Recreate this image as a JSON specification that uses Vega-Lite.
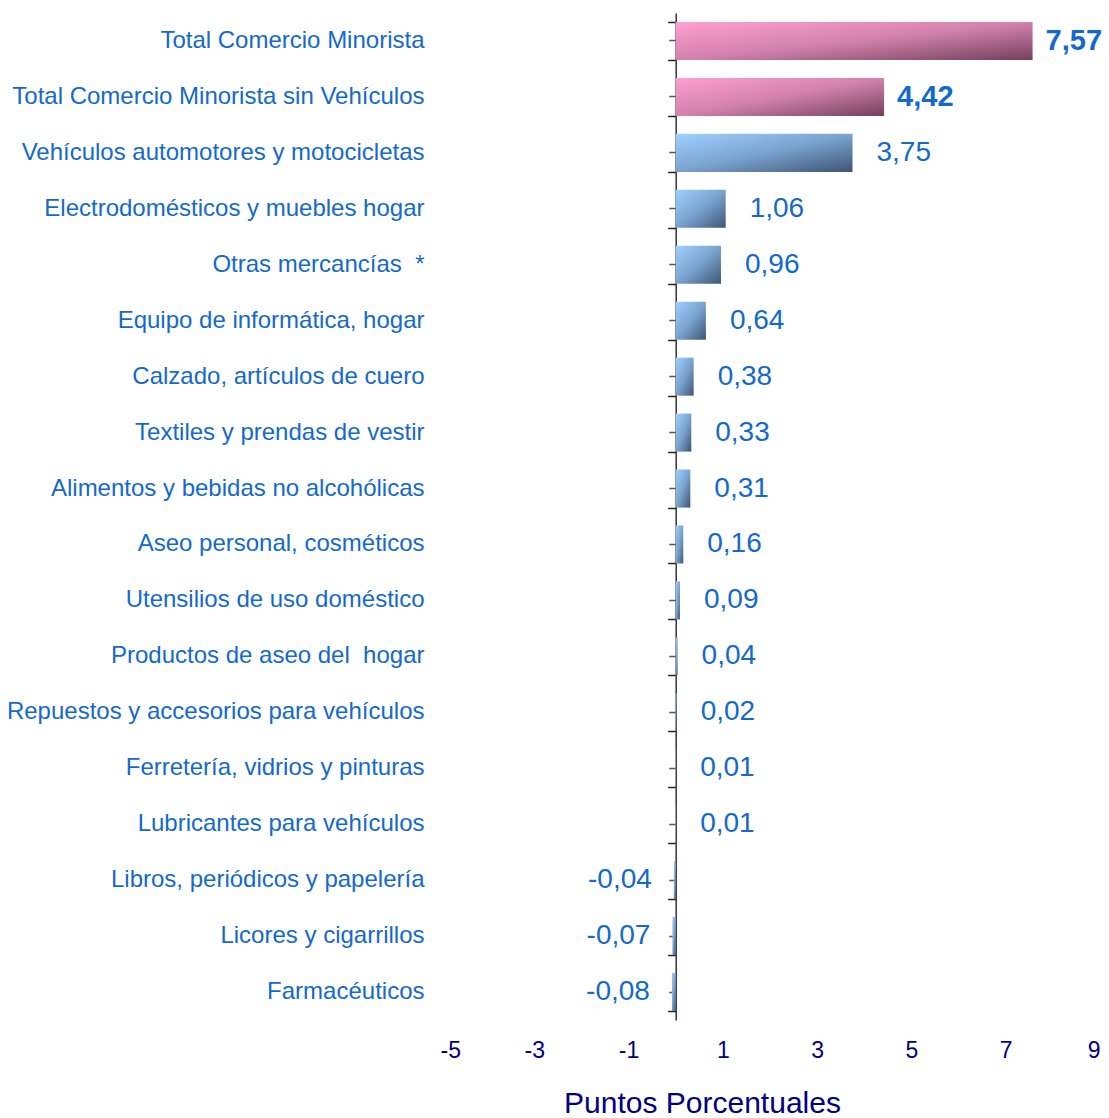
{
  "$schema": "https://vega.github.io/schema/vega-lite/v6.json",
  "autosize": "none",
  "width": 660,
  "height": 1007,
  "padding": {"left": 440, "top": 13, "right": 9, "bottom": 98},
  "background": "white",
  "config": {
    "view": {"stroke": null},
    "font": "Liberation Sans",
    "locale": {"number": {"decimal": ",", "thousands": ".", "grouping": [3], "currency": ["", " €"], "minus": "-"}}
  },
  "data": {"values": [
    {"categoria": "Total Comercio Minorista\u00a0", "valor": 7.57, "grupo": "total"},
    {"categoria": "Total Comercio Minorista sin Vehículos", "valor": 4.42, "grupo": "total"},
    {"categoria": "Vehículos automotores y motocicletas", "valor": 3.75, "grupo": "linea"},
    {"categoria": "Electrodomésticos y muebles hogar\u00a0", "valor": 1.06, "grupo": "linea"},
    {"categoria": "Otras mercancías\u00a0 *", "valor": 0.96, "grupo": "linea"},
    {"categoria": "Equipo de informática, hogar", "valor": 0.64, "grupo": "linea"},
    {"categoria": "Calzado, artículos de cuero\u00a0", "valor": 0.38, "grupo": "linea"},
    {"categoria": "Textiles y prendas de vestir", "valor": 0.33, "grupo": "linea"},
    {"categoria": "Alimentos y bebidas no alcohólicas", "valor": 0.31, "grupo": "linea"},
    {"categoria": "Aseo personal, cosméticos\u00a0", "valor": 0.16, "grupo": "linea"},
    {"categoria": "Utensilios de uso doméstico", "valor": 0.09, "grupo": "linea"},
    {"categoria": "Productos de aseo del\u00a0 hogar", "valor": 0.04, "grupo": "linea"},
    {"categoria": "Repuestos y accesorios para vehículos", "valor": 0.02, "grupo": "linea"},
    {"categoria": "Ferretería, vidrios y pinturas", "valor": 0.01, "grupo": "linea"},
    {"categoria": "Lubricantes para vehículos\u00a0", "valor": 0.01, "grupo": "linea"},
    {"categoria": "Libros, periódicos y papelería\u00a0", "valor": -0.04, "grupo": "linea"},
    {"categoria": "Licores y cigarrillos\u00a0", "valor": -0.07, "grupo": "linea"},
    {"categoria": "Farmacéuticos\u00a0", "valor": -0.08, "grupo": "linea"}
  ]},
  "resolve": {"axis": {"y": "independent"}},
  "layer": [
    {
      "transform": [{"filter": "datum.grupo != 'total'"}],
      "mark": {"type": "bar", "fill": {"gradient": "linear", "x1": 0, "y1": 0, "x2": 1, "y2": 1, "stops": [{"offset": 0, "color": "#9fd0ff"}, {"offset": 0.5, "color": "#7aa3cf"}, {"offset": 1, "color": "#3d5573"}]}},
      "encoding": {
        "y": {"field": "categoria", "type": "nominal", "sort": null,
          "scale": {"domain": ["Total Comercio Minorista\u00a0", "Total Comercio Minorista sin Vehículos", "Vehículos automotores y motocicletas", "Electrodomésticos y muebles hogar\u00a0", "Otras mercancías\u00a0 *", "Equipo de informática, hogar", "Calzado, artículos de cuero\u00a0", "Textiles y prendas de vestir", "Alimentos y bebidas no alcohólicas", "Aseo personal, cosméticos\u00a0", "Utensilios de uso doméstico", "Productos de aseo del\u00a0 hogar", "Repuestos y accesorios para vehículos", "Ferretería, vidrios y pinturas", "Lubricantes para vehículos\u00a0", "Libros, periódicos y papelería\u00a0", "Licores y cigarrillos\u00a0", "Farmacéuticos\u00a0"], "paddingInner": 0.32, "paddingOuter": 0.16},
          "axis": {"orient": "left", "domain": false, "ticks": false, "tickSize": 0, "labelPadding": 16, "labelFontSize": 24, "labelColor": "#1469CC", "labelFont": "Liberation Sans", "labelLimit": 0, "title": null, "grid": false}},
        "x": {"field": "valor", "type": "quantitative", "scale": {"domain": [-5, 9], "nice": false},
          "axis": {"values": [-5, -3, -1, 1, 3, 5, 7, 9], "format": "d", "grid": false, "domain": false, "ticks": false, "labelFontSize": 23, "labelColor": "#000080", "labelFont": "Liberation Sans", "labelPadding": 19, "title": "Puntos Porcentuales", "titleFont": "Liberation Sans", "titleFontSize": 30, "titleFontWeight": "normal", "titleColor": "#000080", "titleX": 262, "titleY": 92, "titleAlign": "center", "titleBaseline": "alphabetic"}}
      }
    },
    {
      "transform": [{"filter": "datum.grupo == 'total'"}],
      "mark": {"type": "bar", "fill": {"gradient": "linear", "x1": 0, "y1": 0, "x2": 1, "y2": 1, "stops": [{"offset": 0, "color": "#ff9fd0"}, {"offset": 0.5, "color": "#d282ac"}, {"offset": 1, "color": "#74405c"}]}},
      "encoding": {
        "y": {"field": "categoria", "type": "nominal", "sort": null, "axis": null},
        "x": {"field": "valor", "type": "quantitative"}
      }
    },
    {
      "mark": {"type": "point", "opacity": 0},
      "encoding": {
        "y": {"field": "categoria", "type": "nominal", "sort": null,
          "axis": {"orient": "left", "offset": -235.7, "labels": false, "tickBand": "extent", "tickSize": 8, "tickColor": "#222222", "tickWidth": 1.5, "domain": true, "domainColor": "#333333", "domainWidth": 1.5, "title": null, "grid": false}},
        "x": {"field": "valor", "type": "quantitative"}
      }
    },
    {
      "mark": {"type": "point", "opacity": 0},
      "encoding": {
        "y": {"field": "categoria", "type": "nominal", "sort": null,
          "axis": {"orient": "left", "offset": -235.7, "labels": false, "tickSize": 7, "tickColor": "#555555", "tickWidth": 1.5, "domain": false, "title": null, "grid": false}},
        "x": {"field": "valor", "type": "quantitative"}
      }
    },
    {
      "transform": [{"filter": "datum.grupo == 'total'"}],
      "mark": {"type": "text", "align": "left", "baseline": "middle", "dx": 13, "fontSize": 29, "fontWeight": "bold", "color": "#1469CC", "font": "Liberation Sans"},
      "encoding": {
        "y": {"field": "categoria", "type": "nominal", "sort": null, "axis": null},
        "x": {"field": "valor", "type": "quantitative"},
        "text": {"field": "valor", "type": "quantitative", "format": ".2f"}
      }
    },
    {
      "transform": [{"filter": "datum.grupo != 'total' && datum.valor > 0"}],
      "mark": {"type": "text", "align": "left", "baseline": "middle", "dx": 24, "fontSize": 28, "color": "#1469CC", "font": "Liberation Sans"},
      "encoding": {
        "y": {"field": "categoria", "type": "nominal", "sort": null, "axis": null},
        "x": {"field": "valor", "type": "quantitative"},
        "text": {"field": "valor", "type": "quantitative", "format": ".2f"}
      }
    },
    {
      "transform": [{"filter": "datum.valor < 0"}],
      "mark": {"type": "text", "align": "right", "baseline": "middle", "dx": -22, "fontSize": 28, "color": "#1469CC", "font": "Liberation Sans"},
      "encoding": {
        "y": {"field": "categoria", "type": "nominal", "sort": null, "axis": null},
        "x": {"field": "valor", "type": "quantitative"},
        "text": {"field": "valor", "type": "quantitative", "format": ".2f"}
      }
    }
  ]
}
